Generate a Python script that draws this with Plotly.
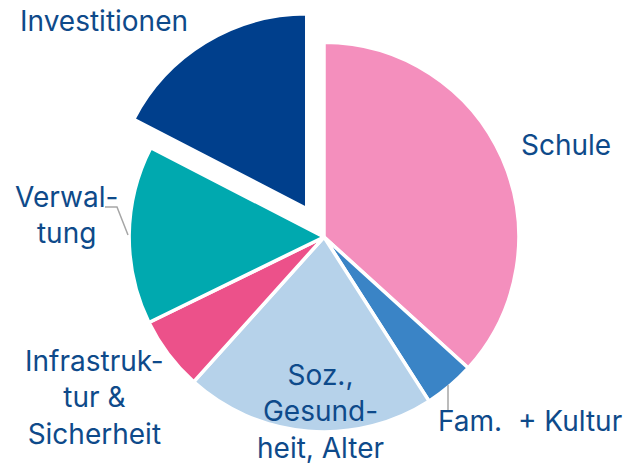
import plotly.graph_objects as go

W, H = 623, 457   # page body has an 8px margin, so the figure is drawn 8px in
OFF = 8

categories = ["Schule", "Fam. + Kultur", "Soz., Gesundheit, Alter",
              "Infrastruktur & Sicherheit", "Verwaltung", "Investitionen"]
values = [36.7, 4.2, 20.7, 6.1, 14.8, 17.4]
label_texts = ["Schule", "Fam.\u00a0\u00a0+ Kultur", "Soz.,<br>Gesund-<br>heit, Alter",
               "Infrastruk-<br>tur &<br>Sicherheit", "Verwal-<br>tung", "Investitionen"]
colors = ["#F48FBD", "#3A84C6", "#B6D2EA", "#EC518A", "#00A9AF", "#003F8C"]
pulls = [0, 0, 0, 0, 0, 0.17]

# label centre positions in screen pixels (layout only)
label_px = [(566, 145), (530, 421), (320, 411), (94, 397), (66, 215), (104, 21)]

def px(x):
    return (x - OFF) / W

def py(y):
    return 1 - (y - OFF) / H

cx_frac = (324 - OFF) / W
half = 0.3665
fig = go.Figure(go.Pie(
    labels=categories,
    values=values,
    sort=False,
    direction="clockwise",
    rotation=0,
    pull=pulls,
    marker=dict(colors=colors, line=dict(color="white", width=3.5)),
    textinfo="none",
    hoverinfo="label+percent",
    showlegend=False,
    domain=dict(x=[cx_frac - half, cx_frac + half], y=[0, 456 / H]),
))

annotations = []
for t, (x, y) in zip(label_texts, label_px):
    annotations.append(dict(
        text=t, x=px(x), y=py(y), xref="paper", yref="paper",
        xanchor="center", yanchor="middle", showarrow=False, align="center",
        font=dict(family="Inter, Roboto, sans-serif", size=28, color="#0E4A8A"),
    ))

line_style = dict(color="#A6A6A6", width=1.5)
shapes = [
    dict(type="path", xref="paper", yref="paper",
         path=f"M {px(105)},{py(207)} L {px(117)},{py(207)} L {px(128)},{py(235)}",
         line=line_style),
    dict(type="line", xref="paper", yref="paper",
         x0=px(448), y0=py(385), x1=px(448), y1=py(410), line=line_style),
]

fig.update_layout(
    width=W, height=H,
    margin=dict(l=0, r=0, t=0, b=0, pad=0),
    paper_bgcolor="white", plot_bgcolor="white",
    annotations=annotations,
    shapes=shapes,
)

fig.write_html("out.html")
